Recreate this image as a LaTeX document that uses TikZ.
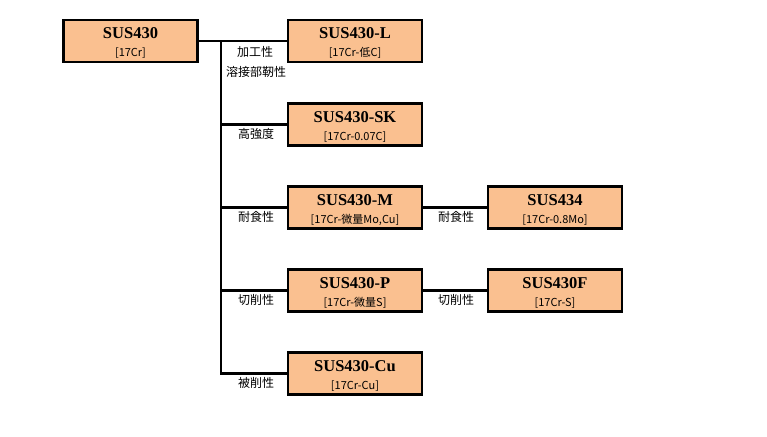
\documentclass[tikz,border=0pt]{standalone}
\usepackage{fontspec}
\setmainfont{Liberation Serif}
\newfontfamily\jpfont{Noto Sans CJK JP}
\usepackage{xcolor}
\usetikzlibrary{positioning}
\definecolor{boxfill}{RGB}{250,192,144}
\tikzset{
  grade/.style={draw,line width=2.2pt,fill=boxfill,minimum width=134pt,minimum height=42pt,
    inner sep=0pt,align=center,font=\fontsize{16.5}{17}\selectfont\bfseries},
  prop/.style={font=\jpfont\fontsize{12}{14}\selectfont,inner sep=0pt},
  link/.style={line width=2.2pt}
}
\newcommand{\gradetext}[2]{\rule{0pt}{15.5pt}#1\\[1pt]{\jpfont\fontsize{11}{12}\selectfont\mdseries #2}}

\begin{document}
\begin{tikzpicture}[x=1pt,y=-1pt]
\useasboundingbox (0,0) rectangle (767,436);
% grades
\node[grade] (s430) at (130.5,41) {\gradetext{SUS430}{[17Cr]}};
\node[grade] (l) at (355,41) {\gradetext{SUS430-L}{[17Cr-低C]}};
\node[grade] (sk) at (355,124.5) {\gradetext{SUS430-SK}{[17Cr-0.07C]}};
\node[grade] (m) at (355,207.5) {\gradetext{SUS430-M}{[17Cr-微量Mo,Cu]}};
\node[grade] (s434) at (555,207.5) {\gradetext{SUS434}{[17Cr-0.8Mo]}};
\node[grade] (p) at (355,290.5) {\gradetext{SUS430-P}{[17Cr-微量S]}};
\node[grade] (f) at (555,290.5) {\gradetext{SUS430F}{[17Cr-S]}};
\node[grade] (cu) at (355,373.5) {\gradetext{SUS430-Cu}{[17Cr-Cu]}};
% tree
\coordinate (jn) at (221,41);
\draw[link] (s430) -- (l);
\draw[link] (jn) |- (cu);
\foreach \g in {sk,m,p}
  \draw[link] (\g.west) -- (\g.west -| jn);
\draw[link] (m) -- (s434);
\draw[link] (p) -- (f);
% properties
\node[prop] (kako) at (255,51.5) {加工性};
\node[prop] (jinsei) at (256,71.5) {溶接部靭性};
\node[prop] (kyodo) at (256,133.5) {高強度};
\node[prop] (taishoku) at (256,216.5) {耐食性};
\node[prop] (taishoku2) at (456,216.5) {耐食性};
\node[prop] (sesaku) at (256,299.5) {切削性};
\node[prop] (sesaku2) at (456,299.5) {切削性};
\node[prop] (hisaku) at (256,382.5) {被削性};
\end{tikzpicture}
\end{document}
